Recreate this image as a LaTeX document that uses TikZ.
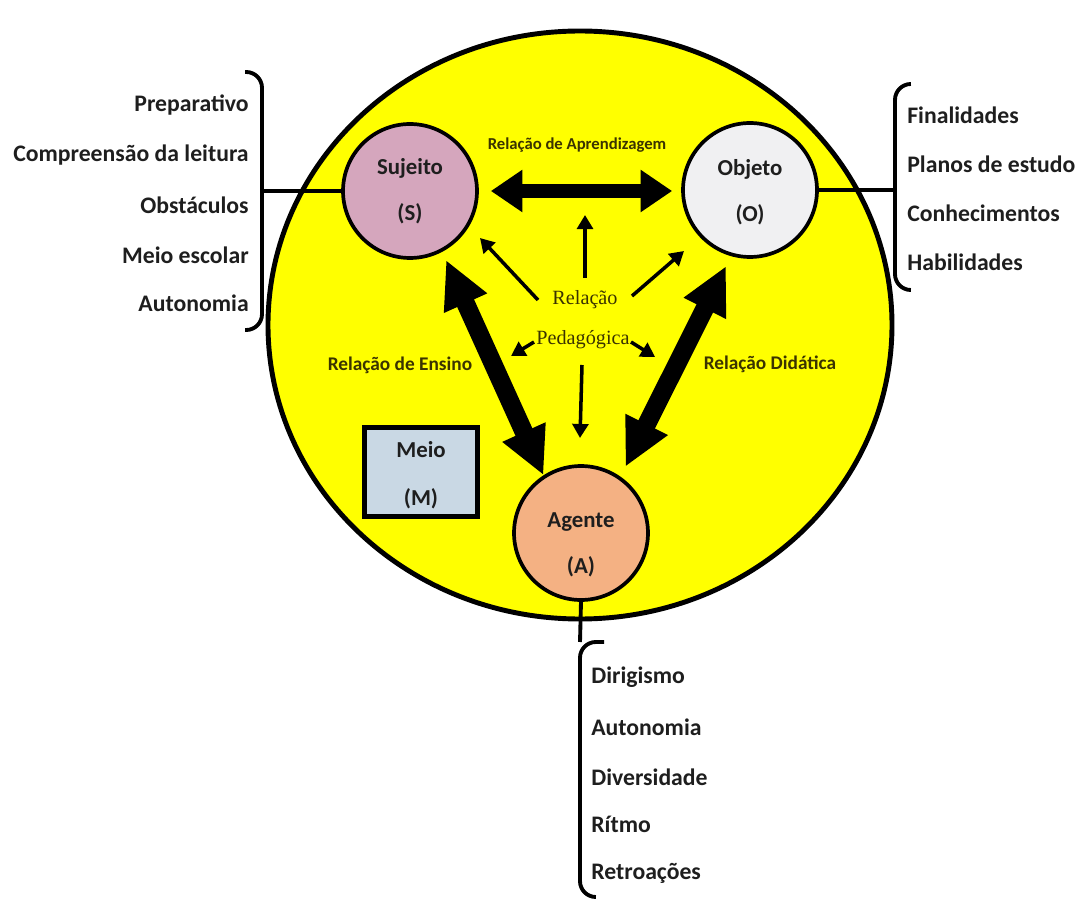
\documentclass[tikz,border=0pt]{standalone}
\usepackage{fontspec}
\setmainfont{Carlito}
\newfontfamily\relserif{Liberation Serif}
\usetikzlibrary{arrows.meta}
\definecolor{yel}{RGB}{255,255,0}
\definecolor{sujc}{HTML}{D5A6BD}
\definecolor{objc}{HTML}{F0F0F2}
\definecolor{agec}{HTML}{F4B183}
\definecolor{meic}{HTML}{C9D8E4}
\definecolor{txtc}{HTML}{1E1E1E}
\definecolor{relc}{HTML}{3A3300}
\begin{document}
\begin{tikzpicture}[x=0.02cm,y=-0.02cm,
  circ/.style={circle, draw, line width=2.1pt, minimum size=2.68cm, inner sep=0pt, align=center,
    font=\bfseries\fontsize{13}{26}\selectfont, text=txtc},
  boxm/.style={rectangle, draw, line width=2.5pt, minimum width=2.26cm, minimum height=1.78cm,
    inner sep=0pt, align=center, font=\bfseries\fontsize{13}{27}\selectfont, text=txtc, fill=meic},
  item/.style={font=\bfseries\fontsize{13.5}{16}\selectfont, text=txtc, inner sep=0pt},
  rel/.style={font=\bfseries\fontsize{11}{13}\selectfont, text=relc, inner sep=0pt},
  relsm/.style={font=\bfseries\fontsize{9.5}{11}\selectfont, text=relc, inner sep=0pt},
  relser/.style={font=\relserif\fontsize{11.5}{13}\selectfont, text=relc, inner sep=0pt},
  conn/.style={line width=2.2pt},
  brace/.style={line width=2.2pt, rounded corners=9pt},
  fath/.style={line width=7.6pt, {Triangle[width=23pt,length=18pt]}-{Triangle[width=23pt,length=18pt]}},
  fatd/.style={line width=10.5pt, {Triangle[width=25pt,length=27pt]}-{Triangle[width=25pt,length=27pt]}},
  thin/.style={line width=2pt, -{Triangle[width=9pt,length=8pt]}}
]
\useasboundingbox (0,0) rectangle (1079,902);

% big yellow circle
\draw[line width=2.8pt, fill=yel] (580,325) ellipse [x radius=312, y radius=294];

% main nodes
\node[circ, fill=sujc] (S) at (410,191) {Sujeito\\(S)};
\node[circ, fill=objc] (O) at (750,190) {\rule{0pt}{12pt}Objeto\\(O)};
\node[circ, fill=agec] (A) at (581,533) {\rule{0pt}{22pt}Agente\\(A)};
\node[boxm] (M) at (421,472) {\rule{0pt}{13pt}Meio\\(M)};

% relation labels
\node[relsm] (rap) at (577,145) {Relação de Aprendizagem};
\node[rel] (ren) at (400,365) {Relação de Ensino};
\node[rel] (rdi) at (770,364) {Relação Didática};
\node[relser] (rp1) at (585,300) {Relação};
\node[relser] (rp2) at (583,340) {Pedagógica};

% fat arrows
\draw[fath, shorten <=0.24cm, shorten >=0.18cm] (S.east) -- (S.east -| O.west);
\draw[fatd, shorten <=0.18cm] (S.-62) -- (A.123);
\draw[fatd, shorten <=0.22cm, shorten >=0.22cm] (O.-106) -- (A.55);

% thin arrows of the pedagogical relation
\coordinate (u0) at (585,278); \coordinate (u1) at (585,215);
\coordinate (ul0) at (538,300); \coordinate (ul1) at (480,238);
\coordinate (ur0) at (632,296); \coordinate (ur1) at (684,251);
\coordinate (dl0) at (534,342); \coordinate (dl1) at (511,356);
\coordinate (dr0) at (631,342); \coordinate (dr1) at (655,357);
\coordinate (d0) at (582,365); \coordinate (d1) at (580,438);
\draw[thin] (u0) -- (u1);
\draw[thin] (ul0) -- (ul1);
\draw[thin] (ur0) -- (ur1);
\draw[thin] (dl0) -- (dl1);
\draw[thin] (dr0) -- (dr1);
\draw[thin] (d0) -- (d1);

% left list (Sujeito)
\coordinate (lb) at (262,191);
\draw[conn] (S.west) -- (lb);
\draw[brace] (245,72) -- (262,72) -- (262,330) -- (245,330);
\node[item, anchor=east] (l1) at (249,105) {Preparativo};
\node[item, anchor=east] (l2) at (249,155) {Compreensão da leitura};
\node[item, anchor=east] (l3) at (249,205) {Obstáculos};
\node[item, anchor=east] (l4) at (249,255) {Meio escolar};
\node[item, anchor=east] (l5) at (249,303) {Autonomia};

% right list (Objeto)
\coordinate (rb) at (895,190);
\draw[conn] (O.east) -- (rb);
\draw[brace] (909,84) -- (895,84) -- (895,290) -- (909,290);
\node[item, anchor=west] (r1) at (907,115) {Finalidades};
\node[item, anchor=west] (r2) at (907,164) {Planos de estudo};
\node[item, anchor=west] (r3) at (907,213) {Conhecimentos};
\node[item, anchor=west] (r4) at (907,262) {Habilidades};

% bottom list (Agente)
\coordinate (bb) at (580,642);
\draw[conn] (A.south) -- (bb);
\draw[brace] (604,642) -- (580,642) -- (580,897) -- (594,897);
\node[item, anchor=west] (b1) at (591,677) {Dirigismo};
\node[item, anchor=west] (b2) at (591,727) {Autonomia};
\node[item, anchor=west] (b3) at (591,777) {Diversidade};
\node[item, anchor=west] (b4) at (591,824) {Rítmo};
\node[item, anchor=west] (b5) at (591,873) {Retroações};
\end{tikzpicture}
\end{document}
